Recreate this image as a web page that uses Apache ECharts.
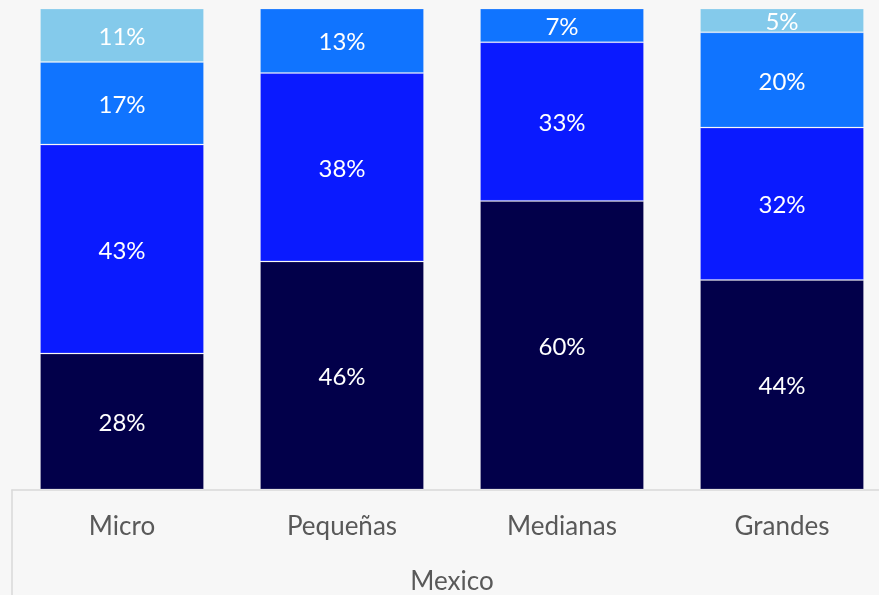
<!DOCTYPE html>
<html><head><meta charset="utf-8">
<script src="https://cdn.jsdelivr.net/npm/echarts@6/dist/echarts.min.js"></script>
<style>html,body{margin:0;padding:0;background:#f7f7f7;overflow:hidden;width:879px;height:595px}#c{width:892px;height:595px}</style>
</head><body><div id="c"></div>
<script>
const categories = ['Micro', 'Pequeñas', 'Medianas', 'Grandes'];
const groupLabel = ['Mexico'];
const seriesA = [28, 46, 60, 44];
const seriesB = [43, 38, 33, 32];
const seriesC = [17, 13, 7, 20];
const seriesD = [11, 0, 0, 5];
const colors = ['#02004a', '#0a1aff', '#1074ff', '#84caeb'];

const raw = [seriesA, seriesB, seriesC, seriesD];
const totals = categories.map((c, i) => raw.reduce((s, arr) => s + arr[i], 0));

const chart = echarts.init(document.getElementById('c'));
const font = 'Lato, "Open Sans", sans-serif';
chart.setOption({
  backgroundColor: '#f7f7f7',
  animation: false,
  grid: { left: 12, right: 0, top: 8.5, bottom: 105.5, containLabel: false },
  xAxis: [
    {
      type: 'category', data: categories, position: 'bottom',
      axisLine: { show: true, lineStyle: { color: '#d9d9d9', width: 1.5 } },
      axisTick: { show: false },
      axisLabel: { color: '#595959', fontFamily: font, fontSize: 26, margin: 24 }
    },
    {
      type: 'category', data: groupLabel, position: 'bottom',
      axisLine: { show: false },
      axisTick: { show: true, length: 110, lineStyle: { color: '#d9d9d9', width: 1.5 } },
      axisLabel: { color: '#595959', fontFamily: font, fontSize: 26, margin: 79 }
    }
  ],
  yAxis: { type: 'value', min: 0, max: 100, show: false, splitLine: { show: false } },
  series: raw.map((arr, si) => ({
    type: 'bar', stack: 'total', barWidth: 164, xAxisIndex: 0,
    data: arr.map((v, i) => v > 0 ? { value: v / totals[i] * 100, raw: v } : '-'),
    itemStyle: { color: colors[si], borderColor: 'rgba(255,255,255,0.2)', borderWidth: 1 },
    label: {
      show: true, position: 'inside', offset: [0, 2], color: '#ffffff', fontFamily: font, fontSize: 24,
      formatter: p => p.data && p.data.raw ? p.data.raw + '%' : ''
    }
  }))
});
</script></body></html>
